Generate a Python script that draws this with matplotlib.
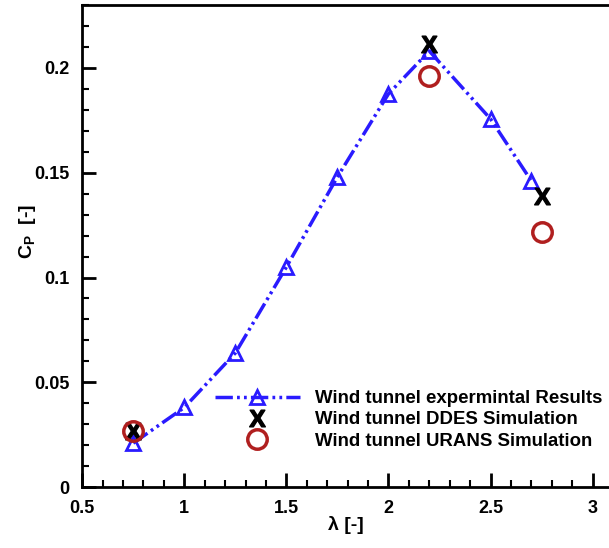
import matplotlib.pyplot as plt
from matplotlib.ticker import MultipleLocator

plt.rcParams['font.family'] = ['Liberation Sans', 'DejaVu Sans']
plt.rcParams['font.weight'] = 'bold'
plt.rcParams['mathtext.fontset'] = 'custom'
plt.rcParams['mathtext.rm'] = 'Liberation Sans:bold'
plt.rcParams['mathtext.bf'] = 'Liberation Sans:bold'

# Datos
tsr_exp = [0.75, 1.0, 1.25, 1.5, 1.75, 2.0, 2.2, 2.5, 2.7]
cp_exp = [0.021, 0.038, 0.064, 0.105, 0.148, 0.1876, 0.208, 0.1756, 0.146]

tsr_ddes = [0.75, 2.2, 2.75]
cp_ddes = [0.027, 0.2115, 0.139]

tsr_urans = [0.75, 2.2, 2.75]
cp_urans = [0.027, 0.196, 0.1215]

xticks = [0.5, 1, 1.5, 2, 2.5, 3]
xtick_labels = ['0.5', '1', '1.5', '2', '2.5', '3']
yticks = [0, 0.05, 0.1, 0.15, 0.2]
ytick_labels = ['0', '0.05', '0.1', '0.15', '0.2']

fig = plt.figure(figsize=(6.09, 5.48), dpi=100)
ax = fig.add_axes([0.135, 0.111, 0.865, 0.88])

ax.plot(tsr_exp, cp_exp, color='#2a1bff', lw=2.5,
        linestyle=(0, (5, 1.2, 0.8, 1.2, 0.8, 1.2)),
        marker='^', markersize=10, markerfacecolor='none',
        markeredgecolor='#2a1bff', markeredgewidth=2,
        label='Wind tunnel expermintal Results')
ax.plot(tsr_ddes, cp_ddes, linestyle='none', marker=r'$\mathbf{X}$',
        markersize=12, color='black', label='Wind tunnel DDES Simulation')
ax.plot(tsr_urans, cp_urans, linestyle='none', marker='o', markersize=14,
        markerfacecolor='none', markeredgecolor='#b01f1f', markeredgewidth=2.5,
        label='Wind tunnel URANS Simulation')

ax.set_xlim(0.5, 3.08)
ax.set_ylim(0, 0.23)
ax.set_xticks(xticks)
ax.set_xticklabels(xtick_labels)
ax.set_yticks(yticks)
ax.set_yticklabels(ytick_labels)
ax.xaxis.set_minor_locator(MultipleLocator(0.1))
ax.yaxis.set_minor_locator(MultipleLocator(0.01))
ax.tick_params(which='both', direction='in', top=False, right=False,
               labelsize=13, width=1.5)
ax.tick_params(which='major', length=10, width=2)
ax.tick_params(which='minor', length=5)
ax.tick_params(axis='x', pad=9)
ax.tick_params(axis='y', pad=9)
ax.spines['right'].set_visible(False)
for s in ['left', 'bottom', 'top']:
    ax.spines[s].set_linewidth(2)

ax.set_xlabel('λ [-]', fontsize=14, fontweight='bold')
ax.set_ylabel(r'C$_\mathbf{P}$  [-]', fontsize=14, fontweight='bold')
ax.xaxis.set_label_coords(0.5, -0.06)
ax.yaxis.set_label_coords(-0.084, 0.53)

ax.legend(loc='upper left', bbox_to_anchor=(0.252, 0.201), frameon=False,
          fontsize=13.4, handlelength=4.57, handletextpad=0.8, labelspacing=0.22,
          borderaxespad=0, borderpad=0)

fig.savefig('out.png', dpi=100)
